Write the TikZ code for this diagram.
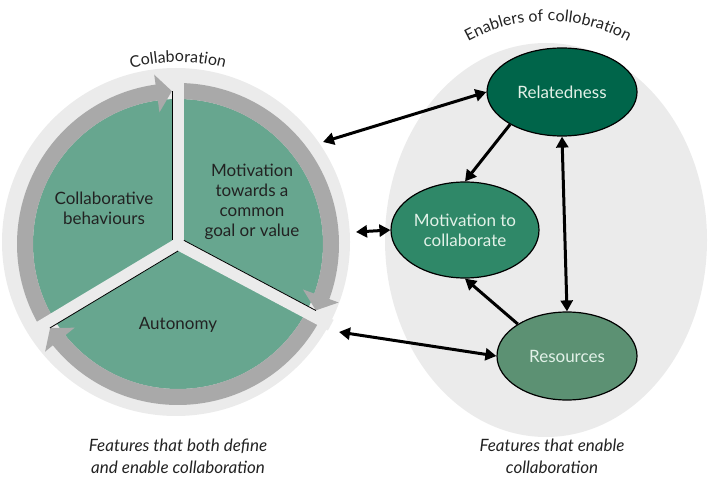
\documentclass[tikz,border=0pt]{standalone}
\usepackage{fontspec}
\setmainfont{Lato}
\usepackage{tikz}
\usetikzlibrary{shapes.geometric,arrows.meta,decorations.text}
\definecolor{disc}{HTML}{EBEBEB}
\definecolor{ring}{HTML}{A9A9A9}
\definecolor{sector}{HTML}{67A68F}
\definecolor{related}{HTML}{00654A}
\definecolor{motive}{HTML}{2F8868}
\definecolor{resource}{HTML}{5C9173}
\definecolor{lighttext}{HTML}{E2F1E8}
\definecolor{darktext}{HTML}{222222}

\begin{document}
\begin{tikzpicture}[x=1pt, y=1pt,
  every node/.style={font=\fontsize{17}{20}\selectfont, align=center, inner sep=0pt, text=darktext},
  enabler/.style={ellipse, draw=black, line width=1.2pt, text=lighttext},
  twoway/.style={line width=3pt, {Triangle[length=11pt,width=12pt]}-{Triangle[length=11pt,width=12pt]}},
  oneway/.style={line width=3pt, -{Triangle[length=11pt,width=12pt]}}]
\useasboundingbox (0,0) rectangle (708,482);

% === Enablers of collaboration ===
\fill[disc] (546,242) ellipse [x radius=161, y radius=197];
\path[decorate, decoration={text along path, text align=center,
  text={|\fontsize{16}{19}\selectfont\color{darktext}|Enablers of collobration}}]
  (548,295) ++(150:166) arc[start angle=150, end angle=30, radius=166];

% === Collaboration wheel ===
\fill[disc] (176,240) circle (174);
\begin{scope}[shift={(178,238)}]
\fill[sector] (0,0) circle (145);
% ring arrows, clockwise
\foreach \a/\b in {211/90, 90/-28, -28/-149} {
  \pgfmathsetmacro\h{\b+8}
  \pgfmathsetmacro\t{\b+2.3}
  \fill[ring] (\a:161) arc[start angle=\a, end angle=\h, radius=161]
    -- (\h:171) -- (\t:153) -- (\h:133) -- (\h:145)
    arc[start angle=\h, end angle=\a, radius=145] -- cycle;
}
% gaps and edge lines
\foreach \b in {90,-28,-149} {
  \draw[disc, line width=12pt] (0,0) -- (\b:173);
}
\foreach \b in {90,-28,-149} {
  \draw[black, line width=0.8pt, rotate=\b] (3.5,6) -- (153,6);
}
\node (collab) at (-74,36) {Collaborative\\behaviours};
\node (motiv) at (74,42) {Motivation\\towards a\\common\\goal or value};
\node (auton) at (0,-81) {Autonomy};
\path[decorate, decoration={text along path, text align=center,
  text={|\fontsize{16}{19}\selectfont\color{darktext}|Collaboration}}]
  (130:182) arc[start angle=130, end angle=50, radius=182];
\end{scope}

% === Enabler nodes ===
\node[enabler, fill=related, minimum width=150pt, minimum height=88pt] (rel) at (562,390) {Relatedness};
\node[enabler, fill=motive, minimum width=148pt, minimum height=96pt] (motc) at (465,252) {Motivation to\\collaborate};
\node[enabler, fill=resource, minimum width=140pt, minimum height=88pt] (res) at (567,126) {Resources};

\coordinate (relin) at (323,340);
\coordinate (motin) at (356,250);
\coordinate (resin) at (339,150);

% connectors
\draw[twoway] (relin) -- (rel.west);
\draw[twoway] (motin) -- (motc.west);
\draw[twoway] (resin) -- (res.west);
\draw[twoway] (rel.south) -- (res.north);
\draw[oneway] (rel.212) -- (motc.north);
\draw[oneway] (res.147) -- (motc.south);

% captions
\node[font=\itshape\fontsize{17}{22}\selectfont] (deflab) at (178,26) {Features that both define\\and enable collaboration};
\node[font=\itshape\fontsize{17}{22}\selectfont] (enlab) at (552,26) {Features that enable\\collaboration};
\end{tikzpicture}
\end{document}
